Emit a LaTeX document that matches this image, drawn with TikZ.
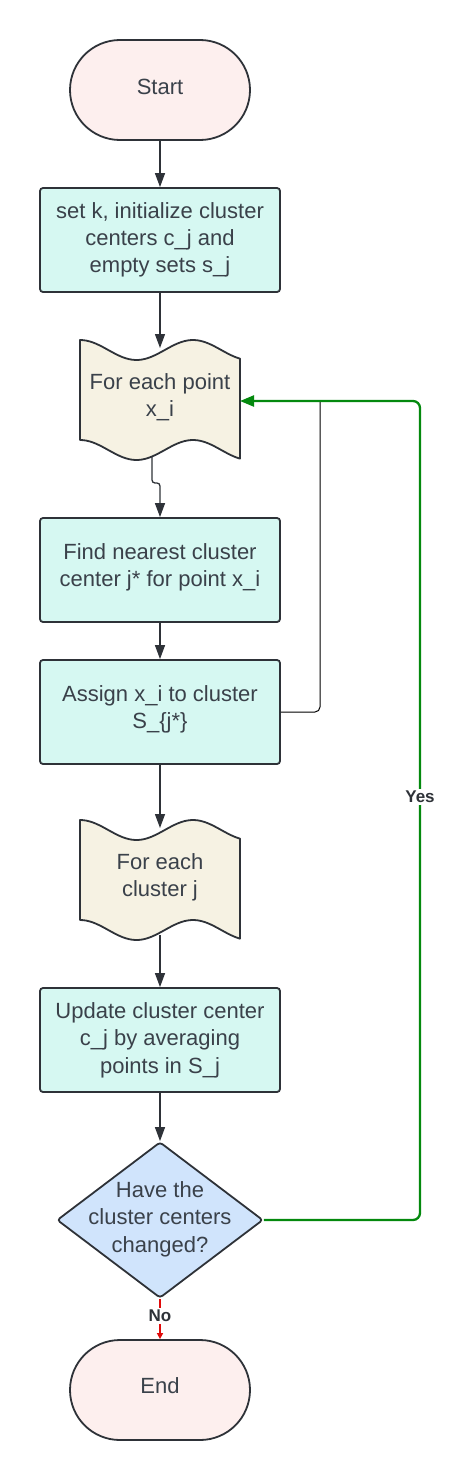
\documentclass[tikz,border=0pt]{standalone}
\usepackage{fontspec}
\setmainfont{Liberation Sans}
\usetikzlibrary{arrows.meta,shapes.geometric}
\definecolor{txt}{HTML}{3A414A}
\definecolor{edge}{HTML}{2E3238}
\definecolor{pinkfill}{HTML}{FDEFEE}
\definecolor{mintfill}{HTML}{D6F8F2}
\definecolor{creamfill}{HTML}{F6F2E3}
\definecolor{bluefill}{HTML}{D0E4FC}
\definecolor{ygreen}{HTML}{04890E}
\definecolor{nred}{HTML}{E00A0A}
\definecolor{thin}{HTML}{8C8E92}
\newcommand\docwave[1]{%
  \draw[docshape] plot[domain=80:240,samples=50] (\x,{#1-10*cos(3.18584*(\x-80))})
    -- plot[domain=240:80,samples=50] (\x,{#1+100-10*cos(3.18584*(\x-80))}) -- cycle;}
\tikzset{
  base/.style={font=\fontsize{22}{27.3}\selectfont, text=txt, align=center},
  term/.style={draw=edge, line width=1.8pt, fill=pinkfill, rounded corners=50pt,
    minimum width=180pt, minimum height=100pt, inner sep=0pt},
  proc/.style={draw=edge, line width=1.8pt, fill=mintfill, rounded corners=3pt,
    minimum width=240pt, minimum height=104pt, inner sep=0pt},
  docshape/.style={draw=edge, line width=1.8pt, fill=creamfill, line join=round},
  conn/.style={draw=edge, line width=1.3pt, -{Triangle[length=14pt,width=10pt]}},
  lbl/.style={font=\fontsize{17}{20}\selectfont\bfseries, text=edge, fill=white, inner sep=2pt},
}
\begin{document}
\begin{tikzpicture}[x=1pt,y=-1pt]
\useasboundingbox (0,0) rectangle (475,1480);
% shapes
\node[term] (start) at (160,90) {};
\node[base] (starttext) at (160,87) {Start};
\node[proc] (init) at (160,240) {};
\node[base] (inittext) at (160,240) {set k, initialize cluster\\centers c\_j and\\empty sets s\_j};
\docwave{350}
\node[base] (d1) at (160,397) {For each point\\x\_i};
\node[proc] (find) at (160,570) {};
\node[base] (findtext) at (160,567) {Find nearest cluster\\center j* for point x\_i};
\node[proc] (assign) at (160,712) {};
\node[base] (assigntext) at (160,709) {Assign x\_i to cluster\\S\_\{j*\}};
\docwave{830}
\node[base] (d2) at (160,877) {For each\\cluster j};
\node[proc] (update) at (160,1040) {};
\node[base] (updatetext) at (160,1040) {Update cluster center\\c\_j by averaging\\points in S\_j};
\node[diamond, draw=edge, line width=1.8pt, fill=bluefill, rounded corners=3pt,
  minimum width=206pt, minimum height=156pt, inner sep=0pt] (dia) at (160,1220) {};
\node[base] (diatext) at (160,1219) {Have the\\cluster centers\\changed?};
\node[term] (end) at (160,1390) {};
\node[base] (endtext) at (160,1386) {End};
% helper coordinates
\coordinate (d1in) at (160,348);
\coordinate (d1out) at (152,457);
\coordinate (d1right) at (240,401);
\coordinate (d2in) at (160,828);
\coordinate (d2out) at (160,935);
\coordinate (gR) at (420,401);
\coordinate (gJ) at (320,401);
% connectors
\draw[conn] (start.south) -- (init.north);
\draw[conn] (init.south) -- (d1in);
\draw[conn, rounded corners=3pt] (d1out) -- ++(0,26) -- ++(8,0) -- (find.north);
\draw[conn] (find.south) -- (assign.north);
\draw[conn] (assign.south) -- (d2in);
\draw[conn] (d2out) -- (update.north);
\draw[conn] (update.south) -- (dia.north);
\draw[thin, line width=1pt, rounded corners=5pt] (assign.east) -| (gJ);
\draw[ygreen, line width=2.3pt, rounded corners=7pt,
  -{Triangle[length=14pt,width=11pt]}] (dia.east) -| (gR) -- (d1right);
\node[lbl] (yes) at (420,797) {Yes};
\draw[nred, line width=2pt, -{Triangle[length=6pt,width=6pt]}] (dia.south) -- (end.north);
\node[lbl] (no) at (160,1316) {No};
\end{tikzpicture}
\end{document}
